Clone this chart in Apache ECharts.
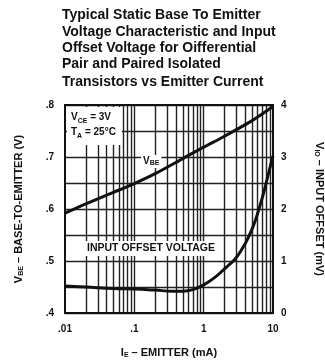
<!DOCTYPE html>
<html>
<head>
<meta charset="utf-8">
<style>html,body{margin:0;padding:0;background:#fff;}#c{width:325px;height:361px;}</style>
<script src="https://cdn.jsdelivr.net/npm/echarts@6/dist/echarts.min.js"></script>
</head>
<body>
<div id="c"></div>
<script>
// ---- data ----
const titleLines = [
  'Typical Static Base To Emitter',
  'Voltage Characteristic and Input',
  'Offset Voltage for Oifferential',
  'Pair and Paired Isolated',
  'Transistors vs Emitter Current'
];
const vbeCurrent = [0.01, 0.02, 0.05, 0.1, 0.2, 0.5, 1, 2, 5, 10];
const vbeVolts   = [0.592, 0.610, 0.632, 0.649, 0.668, 0.697, 0.719, 0.740, 0.770, 0.797];
const offCurrent = [0.01, 0.02, 0.05, 0.1, 0.2, 0.35, 0.5, 0.7, 1, 1.5, 2, 2.8, 3.5, 4.4, 5.5, 6.5, 7.5, 8.5, 10];
const offMilliV  = [0.52, 0.50, 0.47, 0.46, 0.44, 0.42, 0.42, 0.45, 0.54, 0.70, 0.85, 1.03, 1.21, 1.45, 1.76, 2.07, 2.36, 2.65, 3.02];
const xTickLabels = {0.01: '.01', 0.1: '.1', 1: '1', 10: '10'};
const minorGridCurrents = [0.02,0.03,0.04,0.05,0.06,0.07,0.08,0.09,0.1,0.2,0.3,0.4,0.5,0.6,0.7,0.8,0.9,1,2,3,4,5,6,7,8,9];

const chart = echarts.init(document.getElementById('c'));
const F = 'Liberation Sans, Arial, sans-serif';
const ink = '#111';
const gridLine = {color: '#222', width: 1.4};

const titleY = [8, 25, 41, 57, 75];
const graphics = titleLines.map((t, i) => ({
  type: 'text', left: 62, top: titleY[i], z: 100,
  style: {text: t, fill: ink, font: 'bold 14px ' + F}
}));
const annRich = {
  b: {font: 'bold 10px ' + F, fill: ink},
  s: {font: 'bold 7px ' + F, fill: ink, verticalAlign: 'bottom', padding: [4, 0, 0, 0]}
};
graphics.push({
  type: 'text', left: 67, top: 107, z: 100,
  style: {
    text: '{b|V}{s|CE}{b| = 3V}\n{b|T}{s|A}{b| = 25°C}',
    backgroundColor: '#fff', padding: [3, 6, 5, 4], lineHeight: 15, rich: annRich
  }
});
graphics.push({
  type: 'text', left: 141, top: 155, z: 100,
  style: {text: '{b|V}{s|BE}', backgroundColor: '#fff', padding: [1, 2, 1, 2], rich: annRich}
});
graphics.push({
  type: 'text', left: 84, top: 241, z: 100,
  style: {text: 'INPUT OFFSET VOLTAGE', backgroundColor: '#fff', padding: [2, 3, 2, 3], font: 'bold 10.5px ' + F, fill: ink}
});

const labelStyle = {color: ink, fontFamily: F, fontWeight: 'bold', fontSize: 10};
const subRich = {
  n: {fontFamily: F, fontWeight: 'bold', fontSize: 11, color: ink},
  s: {fontFamily: F, fontWeight: 'bold', fontSize: 7, color: ink, verticalAlign: 'bottom', padding: [5, 0, 0, 0]}
};

chart.setOption({
  animation: false,
  backgroundColor: '#fff',
  grid: {left: 65, right: 52, top: 105, bottom: 48, containLabel: false, outerBoundsMode: 'none',
         show: true, borderColor: ink, borderWidth: 2, backgroundColor: 'transparent', z: 10},
  graphic: graphics,
  xAxis: {
    type: 'log', logBase: 10, min: 0.01, max: 10,
    axisLine: {show: false}, axisTick: {show: false},
    splitLine: {show: false},
    axisLabel: Object.assign({margin: 11, formatter: v => xTickLabels[+v.toPrecision(3)] || ''}, labelStyle),
    name: '{n|I}{s|E}{n| – EMITTER (mA)}', nameLocation: 'middle', nameGap: 34,
    nameTextStyle: {rich: subRich}
  },
  yAxis: [{
    type: 'value', min: 0.4, max: 0.8, interval: 0.05,
    axisLine: {show: false}, axisTick: {show: false},
    splitLine: {show: true, lineStyle: gridLine},
    axisLabel: Object.assign({margin: 11, formatter: v => (Math.round(v * 100) % 10 === 0 ? v.toFixed(1).replace(/^0/, '') : '')}, labelStyle),
    name: '{n|V}{s|BE}{n| – BASE-TO-EMITTER (V)}', nameLocation: 'middle', nameGap: 40, nameRotate: 90,
    nameTextStyle: {rich: subRich}
  }, {
    type: 'value', min: 0, max: 4, interval: 0.5, position: 'right',
    axisLine: {show: false}, axisTick: {show: false},
    splitLine: {show: false},
    axisLabel: Object.assign({margin: 8, formatter: v => (Math.abs(v - Math.round(v)) < 1e-6 ? String(Math.round(v)) : '')}, labelStyle),
    name: '{n|V}{s|IO}{n| – INPUT OFFSET (mV)}', nameLocation: 'middle', nameGap: 40, nameRotate: -90,
    nameTextStyle: {rich: subRich}
  }],
  series: [{
    type: 'line', yAxisIndex: 0, data: [], silent: true, z: 1,
    markLine: {
      silent: true, symbol: 'none', label: {show: false},
      lineStyle: {color: gridLine.color, width: gridLine.width, type: 'solid'},
      data: minorGridCurrents.map(v => ({xAxis: v}))
    }
  }, {
    type: 'line', yAxisIndex: 0, smooth: 0.3, showSymbol: false, z: 5,
    lineStyle: {color: ink, width: 3},
    data: vbeCurrent.map((x, i) => [x, vbeVolts[i]])
  }, {
    type: 'line', yAxisIndex: 1, smooth: 0.4, showSymbol: false, z: 5,
    lineStyle: {color: ink, width: 3},
    data: offCurrent.map((x, i) => [x, offMilliV[i]])
  }]
});
</script>
</body>
</html>
